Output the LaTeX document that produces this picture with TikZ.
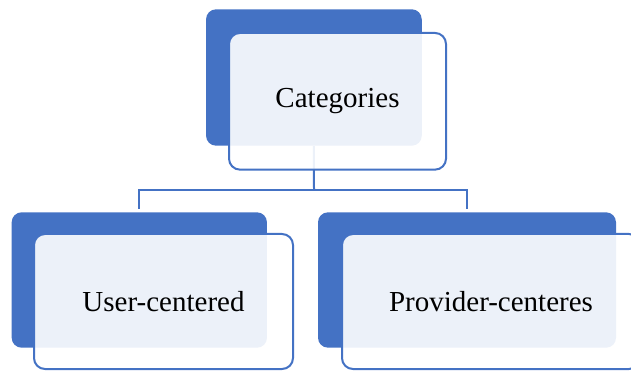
\documentclass[tikz,border=0pt]{standalone}
\usepackage{fontspec}
\setmainfont{Liberation Serif}
\definecolor{oblue}{HTML}{4472C4}
\begin{document}
\begin{tikzpicture}[x=1pt,y=-1pt,
  darkbox/.style={draw=none,fill=oblue,rectangle,rounded corners=10pt,inner sep=0pt},
  lightbox/.style={draw=oblue,line width=2pt,fill=white,fill opacity=0.9,text opacity=1,draw opacity=1,
    rectangle,rounded corners=11pt,inner sep=0pt,font=\fontsize{29}{34}\selectfont,text=black},
  conn/.style={draw=oblue,line width=2pt}]
\useasboundingbox (0,0) rectangle (631,371);
\node[darkbox,minimum width=215.7pt,minimum height=136.4pt] (dt) at (313.9,77.5) {};
\node[darkbox,minimum width=255.3pt,minimum height=135.4pt] (dl) at (139.3,280) {};
\node[darkbox,minimum width=298pt,minimum height=135.4pt] (dr) at (467,280) {};
\coordinate (bus) at (314,190);
\draw[conn] (dt.south) -- (bus);
\draw[conn] (bus) -| ([yshift=3pt]dl.north);
\draw[conn] (bus) -| ([yshift=3pt]dr.north);
\node[lightbox,minimum width=217pt,minimum height=136.7pt] (lt) at (337.5,101.3) {Categories};
\node[lightbox,minimum width=259pt,minimum height=135pt] (ll) at (163.5,301.5) {User-centered};
\node[lightbox,minimum width=298pt,minimum height=135pt] (lr) at (491,301.5) {Provider-centeres};
\end{tikzpicture}
\end{document}
